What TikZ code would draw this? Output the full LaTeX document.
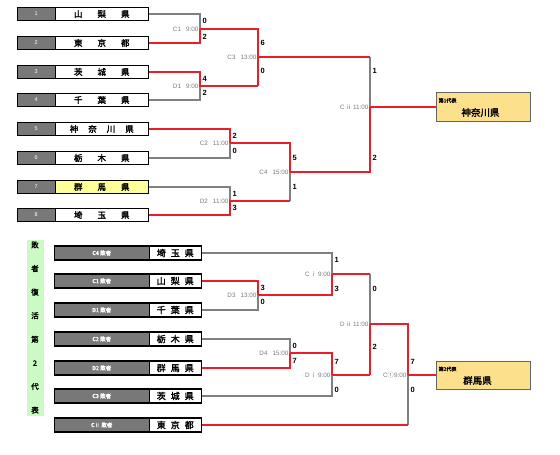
\documentclass[tikz,border=0pt]{standalone}
\usepackage{fontspec}
\setmainfont{Liberation Sans}
\newfontfamily\jp[AutoFakeBold=2]{Noto Sans CJK JP}
\definecolor{lred}{RGB}{235,30,40}
\definecolor{lgray}{RGB}{128,128,128}
\definecolor{boxgray}{RGB}{120,120,120}
\definecolor{mgray}{RGB}{120,120,120}
\definecolor{yname}{RGB}{255,255,153}
\definecolor{resfill}{RGB}{253,224,140}
\definecolor{resborder}{RGB}{100,100,100}
\definecolor{gbar}{RGB}{204,250,196}
\tikzset{
 every node/.style={inner sep=0pt},
 numbox/.style={draw=black, line width=1.5pt, fill=boxgray, minimum width=38pt, minimum height=13pt, anchor=west, text=white, font=\fontsize{5.5}{6}\selectfont},
 namebox/.style={draw=black, line width=1.5pt, fill=white, minimum width=93pt, minimum height=13pt, anchor=west, font=\jp\bfseries\fontsize{8.5}{9}\selectfont},
 lnum/.style={draw=black, line width=1.5pt, fill=boxgray, minimum width=95pt, minimum height=14pt, anchor=west, text=white, font=\jp\bfseries\fontsize{5.5}{6}\selectfont},
 lname/.style={draw=black, line width=1.5pt, fill=white, minimum width=52pt, minimum height=14pt, anchor=west, font=\jp\bfseries\fontsize{9}{10}\selectfont},
 gl/.style={draw=lgray, line width=1.2pt},
 rl/.style={draw=lred, line width=2pt, line join=miter},
 score/.style={anchor=west, font=\bfseries\fontsize{7.5}{8}\selectfont},
 mlab/.style={anchor=east, text=mgray, font=\fontsize{6.3}{7}\selectfont},
 resbox/.style={draw=resborder, line width=1pt, fill=resfill, minimum width=94pt, minimum height=29pt},
 restitle/.style={anchor=west, font=\jp\bfseries\fontsize{5}{6}\selectfont},
 resname/.style={font=\jp\bfseries\fontsize{9.5}{10}\selectfont},
}
\newcommand{\gp}{\hspace{15pt}}
\newcommand{\smgap}{\hspace{5pt}}
\begin{document}
\begin{tikzpicture}[x=1pt,y=-1pt]
\useasboundingbox (0,0) rectangle (560,455);
\begin{scope}[shift={(-0.5,-0.5)}]
% ---------- top teams ----------
\foreach \i/\y/\nm in {1/14.5/山\gp 梨\gp 県, 2/43.5/東\gp 京\gp 都, 3/72.5/茨\gp 城\gp 県, 4/100.5/千\gp 葉\gp 県, 5/129.5/神\hspace{10pt}奈\hspace{10pt}川\hspace{10pt}県, 6/158.5/栃\gp 木\gp 県, 8/215.5/埼\gp 玉\gp 県}{
 \node[numbox] (n\i) at (17,\y) {\i};
 \node[namebox] (t\i) at (55,\y) {\nm};
}
\node[numbox] (n7) at (17,187.5) {7};
\node[namebox, fill=yname] (t7) at (55,187.5) {群\gp 馬\gp 県};
% top coordinates
\coordinate (a1) at (200.5,14.5); \coordinate (a2) at (200.5,43.5); \coordinate (c1) at (200.5,29.5);
\coordinate (a3) at (200.5,72.5); \coordinate (a4) at (200.5,100.5); \coordinate (d1) at (200.5,86.5);
\coordinate (b1) at (258.5,29.5); \coordinate (b2) at (258.5,86.5); \coordinate (c3) at (258.5,57.5);
\coordinate (a5) at (230.5,129.5); \coordinate (a6) at (230.5,158.5); \coordinate (c2) at (230.5,143.5);
\coordinate (a7) at (230.5,187.5); \coordinate (a8) at (230.5,215.5); \coordinate (d2) at (230.5,201.5);
\coordinate (b5) at (290.5,143.5); \coordinate (b7) at (290.5,201.5); \coordinate (c4) at (290.5,172.5);
\coordinate (e1) at (370.5,57.5); \coordinate (e2) at (370.5,172.5); \coordinate (cii) at (370.5,107.5);
\node[resbox] (r1) at (484,107.5) {};
\node[restitle] (r1a) at (439,101) {第1代表};
\node[resname] (r1b) at (481,113) {神奈川県};
% top lines (gray)
\draw[gl] (t1.east) -- (a1) -- (c1);
\draw[gl] (t4.east) -- (a4) -- (d1);
\draw[gl] (e1) -- (cii);
\draw[gl] (t6.east) -- (a6) -- (c2);
\draw[gl] (t7.east) -- (a7) -- (d2);
\draw[gl] (b7) -- (c4);
% top lines (red)
\draw[rl] (t2.east) -- (a2) -- (c1);
\draw[rl] (c1) -- (b1) -- (b2);
\draw[rl] (t3.east) -- (a3) -- (d1) -- (b2);
\draw[rl] (c3) -- (e1);
\draw[rl] (c4) -- (e2) -- (cii);
\draw[rl] (cii) -- (r1.west);
\draw[rl] (t5.east) -- (a5) -- (c2);
\draw[rl] (c2) -- (b5) -- (c4);
\draw[rl] (t8.east) -- (a8) -- (d2) -- (b7);
% top scores
\node[score] (s01) at (203,21) {0};
\node[score] (s02) at (203,37) {2};
\node[score] (s03) at (203,79.5) {4};
\node[score] (s04) at (203,93.5) {2};
\node[score] (s05) at (261,43.5) {6};
\node[score] (s06) at (261,71.5) {0};
\node[score] (s07) at (373,71.5) {1};
\node[score] (s08) at (373,158.5) {2};
\node[score] (s09) at (233,136) {2};
\node[score] (s10) at (233,151) {0};
\node[score] (s11) at (233,194.5) {1};
\node[score] (s12) at (233,208.5) {3};
\node[score] (s13) at (293,158.5) {5};
\node[score] (s14) at (293,187.5) {1};
% top match labels
\node[mlab] (l01) at (199,29.5) {C1\hspace{5pt}9:00};
\node[mlab] (l02) at (199,86.5) {D1\hspace{5pt}9:00};
\node[mlab] (l03) at (257,57.5) {C3\hspace{5pt}13:00};
\node[mlab] (l04) at (369,107.5) {C\,{\jp ⅱ}\,11:00};
\node[mlab] (l05) at (229,143.5) {C2\hspace{5pt}11:00};
\node[mlab] (l06) at (229,201.5) {D2\hspace{5pt}11:00};
\node[mlab] (l07) at (289,172.5) {C4\hspace{5pt}15:00};
% ---------- bottom ----------
\node[draw=none, fill=gbar, minimum width=17pt, minimum height=176pt, align=center, font=\jp\bfseries\fontsize{7.5}{23.6}\selectfont] (gb) at (35.5,328) {敗\\者\\復\\活\\第\\2\\代\\表};
\foreach \i/\y/\lb/\nm in {1/253.5/C4 敗者/埼\smgap 玉\smgap 県, 2/281.5/C1 敗者/山\smgap 梨\smgap 県, 3/310.5/D1 敗者/千\smgap 葉\smgap 県, 4/339.5/C2 敗者/栃\smgap 木\smgap 県, 5/368.5/D2 敗者/群\smgap 馬\smgap 県, 6/396.5/C3 敗者/茨\smgap 城\smgap 県, 7/425.5/C{\jp ⅱ} 敗者/東\smgap 京\smgap 都}{
 \node[lnum] (k\i) at (54,\y) {\lb};
 \node[lname] (m\i) at (149,\y) {\nm};
}
\coordinate (p1) at (332.5,253.5); \coordinate (p2) at (258.5,281.5); \coordinate (p3) at (258.5,310.5);
\coordinate (d3) at (258.5,295.5); \coordinate (q3) at (332.5,295.5); \coordinate (ci) at (332.5,274.5);
\coordinate (p4) at (290.5,339.5); \coordinate (p5) at (290.5,368.5); \coordinate (d4) at (290.5,353.5);
\coordinate (q4) at (332.5,353.5); \coordinate (p6) at (332.5,396.5); \coordinate (di) at (332.5,375.5);
\coordinate (s1) at (370.5,274.5); \coordinate (s2) at (370.5,375.5); \coordinate (dii) at (370.5,324.5);
\coordinate (u1) at (408.5,324.5); \coordinate (p7) at (408.5,425.5); \coordinate (cc) at (408.5,375.5);
\node[resbox, minimum height=28pt] (r2) at (484,375.5) {};
\node[restitle] (r2a) at (439,369.5) {第2代表};
\node[resname] (r2b) at (478,381) {群馬県};
\draw[gl] (m1.east) -- (p1) -- (ci);
\draw[gl] (m3.east) -- (p3) -- (d3);
\draw[gl] (s1) -- (dii);
\draw[gl] (m4.east) -- (p4) -- (d4);
\draw[gl] (m6.east) -- (p6) -- (di);
\draw[gl] (p7) -- (cc);
\draw[rl] (m2.east) -- (p2) -- (d3);
\draw[rl] (d3) -- (q3) -- (ci);
\draw[rl] (ci) -- (s1);
\draw[rl] (s2) -- (dii);
\draw[rl] (dii) -- (u1) -- (cc);
\draw[rl] (cc) -- (r2.west);
\draw[rl] (m5.east) -- (p5) -- (d4);
\draw[rl] (d4) -- (q4) -- (di);
\draw[rl] (di) -- (s2);
\draw[rl] (m7.east) -- (p7);
% bottom scores
\node[score] (s21) at (335,260.5) {1};
\node[score] (s22) at (335,289) {3};
\node[score] (s23) at (261,288.5) {3};
\node[score] (s24) at (261,302) {0};
\node[score] (s25) at (293,346.5) {0};
\node[score] (s26) at (293,361) {7};
\node[score] (s27) at (335,362) {7};
\node[score] (s28) at (335,390) {0};
\node[score] (s29) at (373,289) {0};
\node[score] (s30) at (373,347) {2};
\node[score] (s31) at (411,362) {7};
\node[score] (s32) at (411,390) {0};
% bottom match labels
\node[mlab] (l21) at (331,274.5) {C\,{\jp ⅰ}\,9:00};
\node[mlab] (l22) at (257,295.5) {D3\hspace{5pt}13:00};
\node[mlab] (l23) at (289,353.5) {D4\hspace{5pt}15:00};
\node[mlab] (l24) at (331,375.5) {D\,{\jp ⅰ}\,9:00};
\node[mlab] (l25) at (369,324.5) {D\,{\jp ⅱ}\,11:00};
\node[mlab] (l26) at (407,375.5) {C{\jp ①}9:00};
\end{scope}
\end{tikzpicture}
\end{document}
